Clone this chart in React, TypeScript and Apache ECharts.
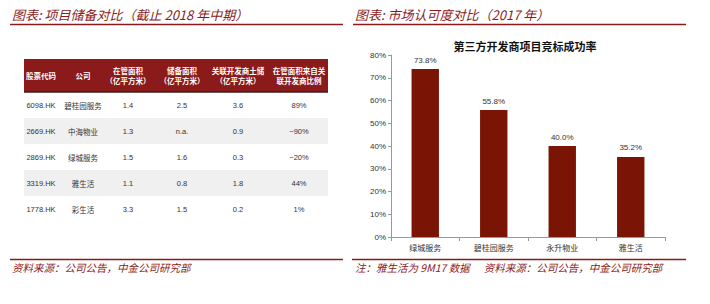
import React, { useEffect, useRef } from "react";
import * as echarts from "echarts";

// ---- Left panel: table data ----
const tableHeaders = [
  "股票代码",
  "公司",
  "在管面积\n（亿平方米）",
  "储备面积\n（亿平方米）",
  "关联开发商土储\n（亿平方米）",
  "在管面积来自关\n联开发商比例",
];
const stockCodes = ["6098.HK", "2669.HK", "2869.HK", "3319.HK", "1778.HK"];
const companies = ["碧桂园服务", "中海物业", "绿城服务", "雅生活", "彩生活"];
const managedArea = ["1.4", "1.3", "1.5", "1.1", "3.3"];
const reserveArea = ["2.5", "n.a.", "1.6", "0.8", "1.5"];
const developerLand = ["3.6", "0.9", "0.3", "1.8", "0.2"];
const developerShare = ["89%", "~90%", "~20%", "44%", "1%"];

// ---- Right panel: bar chart data ----
const barCategories = ["绿城服务", "碧桂园服务", "永升物业", "雅生活"];
const winRates = [73.8, 55.8, 40.0, 35.2];
const yTicks = [0, 10, 20, 30, 40, 50, 60, 70, 80];

const RED = "#8b1a1a";
const BAR = "#7a1505";
const CJK = '"Noto Sans CJK SC", "Noto Sans", sans-serif';
const NUM = '"Liberation Sans", "Noto Sans", sans-serif';

export default function App() {
  const ref = useRef<HTMLDivElement>(null);

  useEffect(() => {
    if (!ref.current) return;
    const chart = echarts.init(ref.current, null, { renderer: "svg" });

    const colX = [41, 83, 128, 182, 238, 299];
    const tableLeft = 24;
    const tableW = 304;
    const headerTop = 59;
    const headerH = 33;
    const rowH = 26;

    const graphics: any[] = [];

    // titles
    graphics.push({
      type: "text",
      x: 12,
      y: 8,
      style: {
        text: "图表: 项目储备对比（截止 2018 年中期）",
        fill: RED,
        font: `italic 13px ${CJK}`,
      },
    });
    graphics.push({
      type: "line",
      shape: { x1: 10, y1: 24.5, x2: 343, y2: 24.5 },
      style: { stroke: RED, lineWidth: 1.5 },
    });
    graphics.push({
      type: "text",
      x: 355,
      y: 8,
      style: {
        text: "图表: 市场认可度对比（2017 年）",
        fill: RED,
        font: `italic 13px ${CJK}`,
      },
    });
    graphics.push({
      type: "line",
      shape: { x1: 353, y1: 24.5, x2: 686, y2: 24.5 },
      style: { stroke: RED, lineWidth: 1.5 },
    });

    // footers
    graphics.push({
      type: "line",
      shape: { x1: 10, y1: 259.5, x2: 343, y2: 259.5 },
      style: { stroke: RED, lineWidth: 1.5 },
    });
    graphics.push({
      type: "text",
      x: 12,
      y: 262,
      style: {
        text: "资料来源：公司公告，中金公司研究部",
        fill: RED,
        font: `italic 10.5px ${CJK}`,
      },
    });
    graphics.push({
      type: "line",
      shape: { x1: 352, y1: 259.5, x2: 686, y2: 259.5 },
      style: { stroke: RED, lineWidth: 1.5 },
    });
    graphics.push({
      type: "text",
      x: 355,
      y: 262,
      style: {
        text: "注：雅生活为 9M17 数据      资料来源：公司公告，中金公司研究部",
        fill: RED,
        font: `italic 10.5px ${CJK}`,
      },
    });

    // table header
    graphics.push({
      type: "rect",
      shape: { x: tableLeft, y: headerTop, width: tableW, height: headerH },
      style: { fill: RED },
    });
    graphics.push({
      type: "line",
      shape: { x1: tableLeft, y1: headerTop + headerH, x2: tableLeft + tableW, y2: headerTop + headerH },
      style: { stroke: "#3a2020", lineWidth: 1.5 },
    });
    tableHeaders.forEach((h, i) => {
      graphics.push({
        type: "text",
        x: colX[i],
        y: headerTop + headerH / 2,
        style: {
          text: h,
          fill: "#ffffff",
          font: `bold 7.5px ${CJK}`,
          align: "center",
          verticalAlign: "middle",
          lineHeight: 10,
        },
      });
    });

    // table rows
    const rows = stockCodes.map((c, r) => [
      c,
      companies[r],
      managedArea[r],
      reserveArea[r],
      developerLand[r],
      developerShare[r],
    ]);
    rows.forEach((row, r) => {
      const top = headerTop + headerH + r * rowH;
      if (r % 2 === 1) {
        graphics.push({
          type: "rect",
          shape: { x: tableLeft, y: top, width: tableW, height: rowH },
          style: { fill: "#f0f0f0" },
        });
      }
      row.forEach((cell, i) => {
        const isCjk = i === 1;
        graphics.push({
          type: "text",
          x: colX[i],
          y: top + rowH / 2,
          style: {
            text: cell,
            fill: "#333333",
            font: isCjk ? `7.5px ${CJK}` : `7.5px ${NUM}`,
            align: "center",
            verticalAlign: "middle",
          },
        });
      });
    });

    chart.setOption({
      animation: false,
      title: {
        text: "第三方开发商项目竞标成功率",
        left: 520,
        top: 35,
        textAlign: "center",
        textStyle: { fontFamily: CJK, fontSize: 11, fontWeight: "bold", color: "#111" },
      },
      grid: { left: 391, right: 45, top: 55, bottom: 67 },
      xAxis: {
        type: "category",
        data: barCategories,
        axisLine: { lineStyle: { color: "#999" } },
        axisTick: { show: true, alignWithLabel: false, length: 4, lineStyle: { color: "#999" } },
        axisLabel: { fontFamily: CJK, fontSize: 8, color: "#333", margin: 6 },
      },
      yAxis: {
        type: "value",
        min: yTicks[0],
        max: yTicks[yTicks.length - 1],
        interval: yTicks[1] - yTicks[0],
        axisLine: { show: true, lineStyle: { color: "#999" } },
        axisTick: { show: true, length: 3, lineStyle: { color: "#999" } },
        splitLine: { show: false },
        axisLabel: { fontFamily: NUM, fontSize: 8, color: "#333", formatter: "{value}%", margin: 5 },
      },
      series: [
        {
          type: "bar",
          data: winRates,
          barWidth: "40%",
          itemStyle: { color: BAR },
          label: {
            show: true,
            position: "top",
            fontFamily: NUM,
            fontSize: 8,
            color: "#333",
            formatter: (p: any) => p.value.toFixed(1) + "%",
          },
        },
      ],
      graphic: graphics,
    });

    return () => chart.dispose();
  }, []);

  return (
    <div
      ref={ref}
      style={{ position: "fixed", left: 0, top: 0, width: 710, height: 304, background: "#fff" }}
    />
  );
}
